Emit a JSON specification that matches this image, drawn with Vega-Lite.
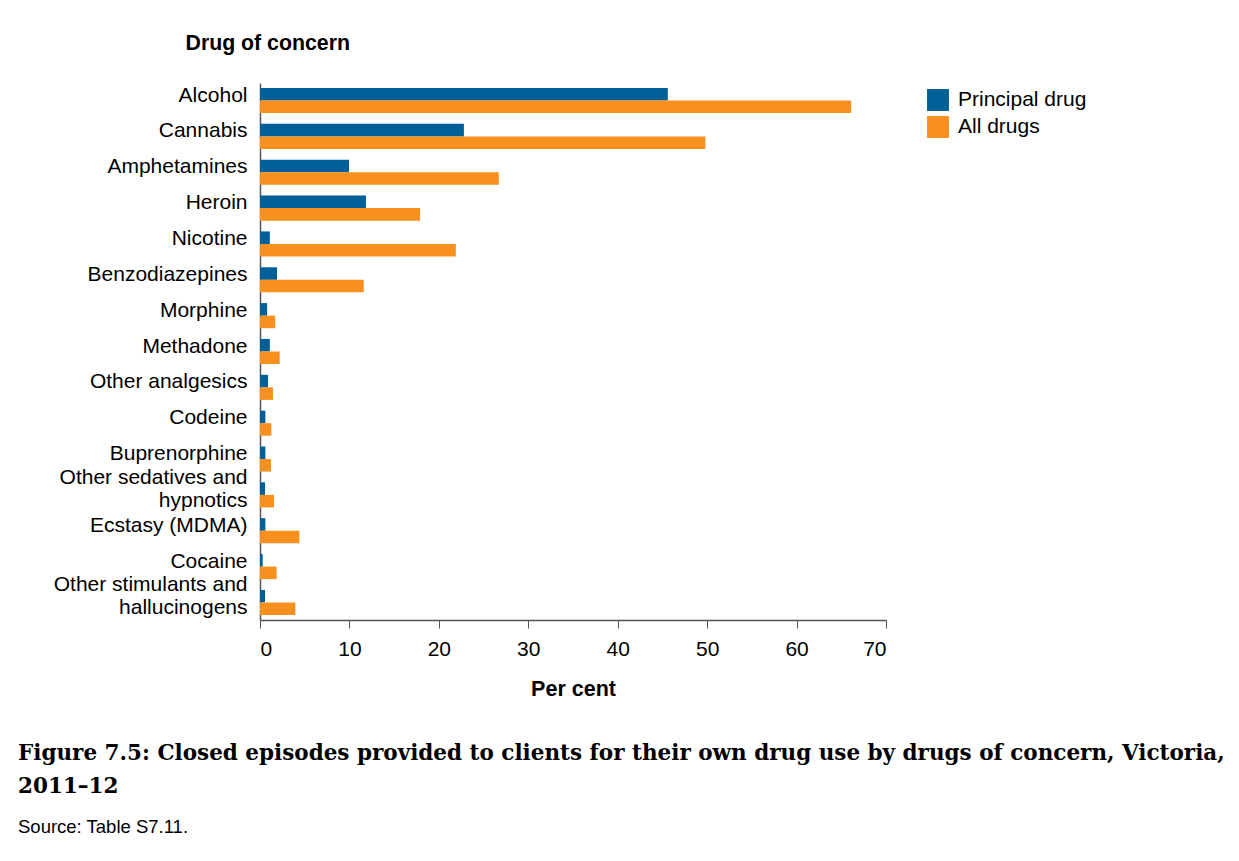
{
  "$schema": "https://vega.github.io/schema/vega-lite/v6.json",
  "width": 626,
  "height": 537,
  "autosize": "none",
  "padding": {"left": 260, "top": 83, "right": 353, "bottom": 241},
  "background": "white",
  "data": {
    "values": [
      {"drug": "Alcohol", "type": "Principal drug", "pct": 45.6},
      {"drug": "Alcohol", "type": "All drugs", "pct": 66.1},
      {"drug": "Cannabis", "type": "Principal drug", "pct": 22.8},
      {"drug": "Cannabis", "type": "All drugs", "pct": 49.8},
      {"drug": "Amphetamines", "type": "Principal drug", "pct": 9.95},
      {"drug": "Amphetamines", "type": "All drugs", "pct": 26.7},
      {"drug": "Heroin", "type": "Principal drug", "pct": 11.85},
      {"drug": "Heroin", "type": "All drugs", "pct": 17.9},
      {"drug": "Nicotine", "type": "Principal drug", "pct": 1.1},
      {"drug": "Nicotine", "type": "All drugs", "pct": 21.9},
      {"drug": "Benzodiazepines", "type": "Principal drug", "pct": 1.9},
      {"drug": "Benzodiazepines", "type": "All drugs", "pct": 11.6},
      {"drug": "Morphine", "type": "Principal drug", "pct": 0.8},
      {"drug": "Morphine", "type": "All drugs", "pct": 1.7},
      {"drug": "Methadone", "type": "Principal drug", "pct": 1.1},
      {"drug": "Methadone", "type": "All drugs", "pct": 2.2},
      {"drug": "Other analgesics", "type": "Principal drug", "pct": 0.9},
      {"drug": "Other analgesics", "type": "All drugs", "pct": 1.45},
      {"drug": "Codeine", "type": "Principal drug", "pct": 0.6},
      {"drug": "Codeine", "type": "All drugs", "pct": 1.27},
      {"drug": "Buprenorphine", "type": "Principal drug", "pct": 0.6},
      {"drug": "Buprenorphine", "type": "All drugs", "pct": 1.23},
      {"drug": "Other sedatives and hypnotics", "type": "Principal drug", "pct": 0.56},
      {"drug": "Other sedatives and hypnotics", "type": "All drugs", "pct": 1.57},
      {"drug": "Ecstasy (MDMA)", "type": "Principal drug", "pct": 0.6},
      {"drug": "Ecstasy (MDMA)", "type": "All drugs", "pct": 4.4},
      {"drug": "Cocaine", "type": "Principal drug", "pct": 0.3},
      {"drug": "Cocaine", "type": "All drugs", "pct": 1.86},
      {"drug": "Other stimulants and hallucinogens", "type": "Principal drug", "pct": 0.56},
      {"drug": "Other stimulants and hallucinogens", "type": "All drugs", "pct": 3.95}
    ]
  },
  "title": {
    "text": ["Figure 7.5: Closed episodes provided to clients for their own drug use by drugs of concern, Victoria,", "2011–12"],
    "subtitle": "Source: Table S7.11.",
    "orient": "bottom",
    "anchor": "start",
    "frame": "group",
    "dx": -242,
    "offset": 43,
    "font": "DejaVu Serif",
    "fontSize": 21.5,
    "fontWeight": "bold",
    "color": "black",
    "lineHeight": 33,
    "subtitleFont": "Liberation Sans",
    "subtitleFontSize": 18.5,
    "subtitleColor": "black",
    "subtitlePadding": 21
  },
  "mark": {"type": "bar"},
  "encoding": {
    "y": {
      "field": "drug",
      "type": "nominal",
      "sort": null,
      "scale": {"paddingInner": 0.3, "paddingOuter": 0.14},
      "axis": {
        "title": "Drug of concern",
        "titleAngle": 0,
        "titleAlign": "left",
        "titleBaseline": "alphabetic",
        "titleX": -75,
        "titleY": -34,
        "titleFont": "Liberation Sans",
        "titleFontSize": 21.3,
        "titleFontWeight": "bold",
        "titleColor": "black",
        "labelFont": "Liberation Sans",
        "labelFontSize": 21,
        "labelColor": "black",
        "labelPadding": 13,
        "labelOffset": {"expr": "indexof(datum.value, 'Other s') == 0 ? -17 : -5"},
        "labelLineHeight": 23,
        "labelLimit": 300,
        "labelExpr": "datum.value == 'Other sedatives and hypnotics' ? ['Other sedatives and', 'hypnotics'] : datum.value == 'Other stimulants and hallucinogens' ? ['Other stimulants and', 'hallucinogens'] : datum.value",
        "ticks": false,
        "domainColor": "#555555",
        "domainWidth": 1.5
      }
    },
    "yOffset": {"field": "type", "type": "nominal", "sort": ["Principal drug", "All drugs"]},
    "x": {
      "field": "pct",
      "type": "quantitative",
      "scale": {"domain": [0, 70], "nice": false},
      "axis": {
        "title": "Per cent",
        "values": [0, 10, 20, 30, 40, 50, 60, 70],
        "grid": false,
        "titleFont": "Liberation Sans",
        "titleFontSize": 21.5,
        "titleFontWeight": "bold",
        "titleColor": "black",
        "titlePadding": 19,
        "labelFont": "Liberation Sans",
        "labelFontSize": 21,
        "labelColor": "black",
        "labelPadding": 10,
        "tickSize": 8,
        "tickColor": "#555555",
        "domainColor": "#555555",
        "domainWidth": 1.5
      }
    },
    "color": {
      "field": "type",
      "type": "nominal",
      "sort": ["Principal drug", "All drugs"],
      "scale": {"domain": ["Principal drug", "All drugs"], "range": ["#005f96", "#f7901e"]},
      "legend": {
        "title": null,
        "orient": "none",
        "legendX": 667,
        "legendY": 6,
        "symbolType": "square",
        "symbolSize": 480,
        "symbolStrokeWidth": 0,
        "labelFont": "Liberation Sans",
        "labelFontSize": 21,
        "labelColor": "black",
        "labelOffset": 9,
        "rowPadding": 5
      }
    }
  },
  "config": {
    "view": {"stroke": null}
  }
}
